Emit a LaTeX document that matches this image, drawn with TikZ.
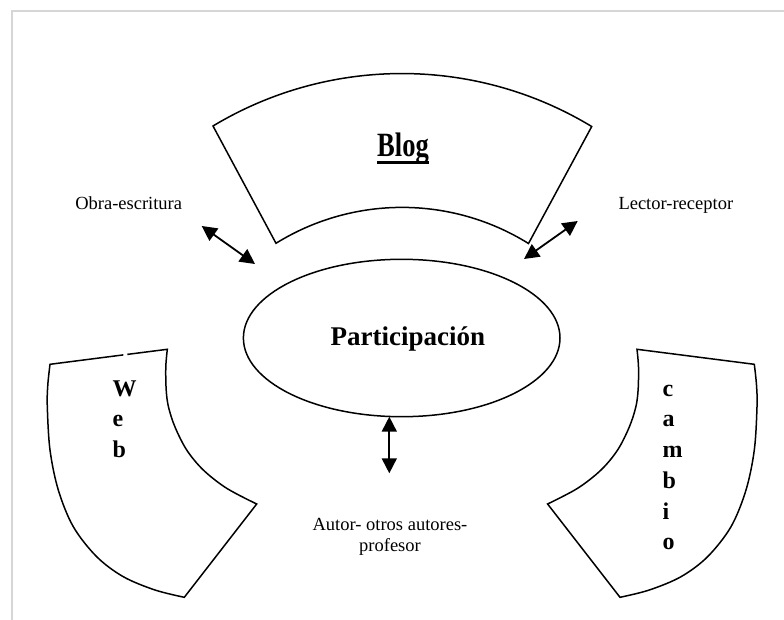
\documentclass[tikz,border=0pt]{standalone}
\usepackage{fontspec}
\usepackage{graphicx}
\setmainfont{Liberation Serif}
\usetikzlibrary{arrows.meta,shapes.geometric,calc}
\definecolor{framegray}{HTML}{D6D6D6}
\newcommand\sidearcbody{(167.3,349.3) -- plot[smooth, tension=0.55] coordinates {(167.3,349.3) (165.8,367) (166.2,390) (168.5,407) (175,427) (186.7,450) (203.3,470) (226.7,488.3) (256.7,504)} -- (184.3,597.3) -- plot[smooth, tension=0.55] coordinates {(184.3,597.3) (155,590) (123.3,576.7) (96.7,556.7) (73.3,526.7) (58.3,490) (50,450) (47.3,406.7) (47.8,385) (50,364.3)}}
\begin{document}
\begin{tikzpicture}[x=1pt,y=1pt,yscale=-1,
  shapeline/.style={draw=black, line width=1.5pt, line join=miter},
  dblarrow/.style={{Triangle[length=15pt,width=15pt]}-{Triangle[length=15pt,width=15pt]}, line width=1.8pt},
  smalllabel/.style={font=\fontsize{18.5}{21}\selectfont, inner sep=0pt},
  biglabel/.style={font=\fontsize{27}{31}\selectfont\bfseries, inner sep=0pt},
  vertlabel/.style={font=\fontsize{24}{30.7}\selectfont\bfseries, inner sep=0pt, align=left, anchor=north west}]
\useasboundingbox (0,0) rectangle (784,620);
% frame
\draw[framegray, line width=2pt] (11.5,620) -- (11.5,11) -- (784,11);
% Blog block arc
\draw[shapeline] (213,126) arc[start angle=-121.04, end angle=-58.8, radius=366.4]
  -- (528.5,243.5) arc[start angle=-58.12, end angle=-121.78, radius=239.4] -- cycle;
\node[font=\fontsize{34}{38}\selectfont\bfseries, inner sep=0pt, anchor=base] (blogt) at (403,157) {\scalebox{0.78}[1]{Blog}};
\draw[line width=2.4pt] ($(blogt.base west)+(0,5.5)$) -- ($(blogt.base east)+(0,5.5)$);
% side block arcs
\draw[shapeline] (127.3,354.4) -- \sidearcbody -- (123.3,354.9);
\begin{scope}[xshift=804.3pt, xscale=-1]
\draw[shapeline] \sidearcbody -- cycle;
\end{scope}
\node[vertlabel] (web) at (112.5,378) {\rule{0pt}{18pt}W\\e\\b};
\node[vertlabel] (cambio) at (662.5,378) {\rule{0pt}{18pt}c\\a\\m\\b\\i\\o};
% centre ellipse
\node[ellipse, draw, line width=1.5pt, minimum width=316.6pt, minimum height=157.4pt, inner sep=0pt] (part) at (401.7,338) {};
\node[biglabel, anchor=base] (parttext) at (407.8,345.7) {Participación};
% labels
\node[smalllabel, anchor=base east] (obra) at (182.3,210) {Obra-escritura};
\node[smalllabel, anchor=base west] (lector) at (618.3,210) {Lector-receptor};
\node[smalllabel, align=center, anchor=north] (autor) at (390,517.7) {Autor- otros autores-\\profesor};
% arrows
\coordinate (obraA) at (201.7,226);
\coordinate (obraB) at (255,264);
\coordinate (lectA) at (577.7,221);
\coordinate (lectB) at (524,259);
\coordinate (autA) at (389.3,416.7);
\coordinate (autB) at (389.3,473.3);
\draw[dblarrow] (obraA) -- (obraB);
\draw[dblarrow] (lectA) -- (lectB);
\draw[dblarrow] (autA) -- (autB);
\end{tikzpicture}
\end{document}
